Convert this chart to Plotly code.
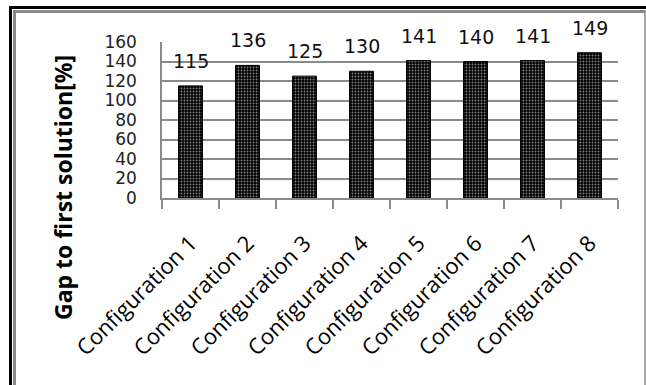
import plotly.graph_objects as go

categories = ["Configuration 1", "Configuration 2", "Configuration 3", "Configuration 4",
              "Configuration 5", "Configuration 6", "Configuration 7", "Configuration 8"]
values = [115, 136, 125, 130, 141, 140, 141, 149]
y_ticks = [0, 20, 40, 60, 80, 100, 120, 140, 160]
y_title = "Gap to first solution[%]"

W, H = 646, 385
L, R, T, B = 162, 618, 42, 198  # plot area in pixels
pw, ph = R - L, B - T

def px(x):
    return (x - L) / pw

def py(y):
    return (B - y) / ph

fig = go.Figure()
fig.add_trace(go.Bar(
    x=categories, y=values, width=0.42,
    marker=dict(
        color="black",
        line=dict(color="black", width=1),
        pattern=dict(shape=".", fgcolor="white", bgcolor="#000000",
                     size=3, solidity=0.3, fillmode="overlay"),
    ),
    showlegend=False, hoverinfo="skip",
))

for c, v in zip(categories, values):
    fig.add_annotation(x=c, y=v, text=str(v), showarrow=False, yanchor="bottom",
                       yshift=12, font=dict(family="DejaVu Sans", size=19, color="#111"))

fig.add_annotation(x=px(63), y=py(188), xref="paper", yref="paper", text="<b>" + y_title + "</b>",
                   textangle=-90, showarrow=False, xanchor="center", yanchor="middle",
                   font=dict(family="Open Sans", size=23, color="black"))

fig.update_layout(
    width=W, height=H,
    margin=dict(l=L, r=W - R, t=T, b=H - B, autoexpand=False),
    paper_bgcolor="white", plot_bgcolor="white",
    font=dict(family="DejaVu Sans", color="#111"),
    bargap=0.58,
)
fig.update_yaxes(
    range=[0, 160], tickvals=y_ticks, ticktext=[str(t) for t in y_ticks],
    showgrid=True, gridcolor="#8a8a8a", gridwidth=1.5,
    showline=True, linecolor="#8a8a8a", linewidth=1.5,
    ticks="", ticklabelstandoff=20, zeroline=False, automargin=False,
    tickfont=dict(family="DejaVu Sans", size=17, color="#222"),
)
fig.update_xaxes(
    showline=True, linecolor="#8a8a8a", linewidth=1.5, automargin=False,
    ticks="outside", tickson="boundaries", ticklen=9, tickcolor="#8a8a8a", tickwidth=1.5,
    tickangle=-45, ticklabelstandoff=22,
    tickfont=dict(family="Open Sans", size=22, color="black"),
)

# Frame lines
shapes = [
    dict(x0=px(9), x1=px(W), y0=py(7.5), y1=py(7.5), line=dict(color="black", width=3)),
    dict(x0=px(10.5), x1=px(10.5), y0=py(6), y1=py(H), line=dict(color="black", width=3)),
    dict(x0=px(13), x1=px(645), y0=py(11.5), y1=py(11.5), line=dict(color="#8a8a8a", width=3)),
    dict(x0=px(14.5), x1=px(14.5), y0=py(10), y1=py(H), line=dict(color="#8a8a8a", width=3)),
    dict(x0=px(645), x1=px(645), y0=py(10), y1=py(H), line=dict(color="#8a8a8a", width=1.5)),
]
for s in shapes:
    fig.add_shape(type="line", xref="paper", yref="paper", layer="above", **s)

fig.write_html("out.html", config={"displayModeBar": False},
               post_script="document.body.style.margin='0';document.body.style.overflow='hidden';")
